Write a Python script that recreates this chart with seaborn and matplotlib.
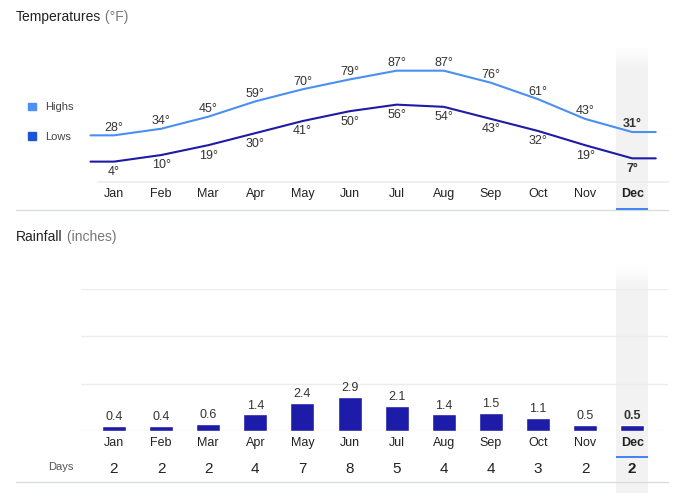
import numpy as np
import pandas as pd
import matplotlib
matplotlib.use("Agg")
import matplotlib.pyplot as plt
import seaborn as sns
from matplotlib.patches import Rectangle, Patch
from matplotlib.lines import Line2D
from matplotlib.transforms import blended_transform_factory

months = ["Jan", "Feb", "Mar", "Apr", "May", "Jun", "Jul", "Aug", "Sep", "Oct", "Nov", "Dec"]
highs = [28, 34, 45, 59, 70, 79, 87, 87, 76, 61, 43, 31]
lows = [4, 10, 19, 30, 41, 50, 56, 54, 43, 32, 19, 7]
rain = [0.4, 0.4, 0.6, 1.4, 2.4, 2.9, 2.1, 1.4, 1.5, 1.1, 0.5, 0.5]
rain_days = [2, 2, 2, 4, 7, 8, 5, 4, 4, 3, 2, 2]

HI_COL = "#4a8ff2"
LO_COL = "#1d1ba6"
BAR_COL = "#1c1ca8"
W, H = 682, 493

sns.set_theme(style="white")
plt.rcParams["font.family"] = ["Liberation Sans", "DejaVu Sans"]

fig = plt.figure(figsize=(W / 100, H / 100), dpi=100)

def box(l, t, r, b):
    # pixel box -> figure fractions
    return [l / W, 1 - b / H, (r - l) / W, (b - t) / H]

# ---- temperatures ----
ax = fig.add_axes(box(98, 48, 668, 182))
ax.set_facecolor("none")
n = len(months)
xs = np.r_[-0.5, np.arange(n), n - 0.5]
temp = pd.DataFrame({
    "x": np.r_[xs, xs],
    "t": np.r_[highs[0], highs, highs[-1], lows[0], lows, lows[-1]],
    "kind": ["Highs"] * len(xs) + ["Lows"] * len(xs),
})
sns.lineplot(data=temp, x="x", y="t", hue="kind", palette={"Highs": HI_COL, "Lows": LO_COL},
             ax=ax, legend=False, lw=1.5, clip_on=False, solid_joinstyle="round")
ax.set_xlim(-0.34, 11.76)
ax.set_ylim(-14.6, 107.7)
for i in range(n):
    wt = "bold" if i == n - 1 else "normal"
    ax.annotate(f"{highs[i]}°", (i, highs[i]), xytext=(0, 5.5), textcoords="offset points",
                ha="center", va="center", fontsize=9, color="#333", fontweight=wt)
    ax.annotate(f"{lows[i]}°", (i, lows[i]), xytext=(0, -7.5), textcoords="offset points",
                ha="center", va="center", fontsize=9, color="#333", fontweight=wt)
ax.set_xticks(range(n), months)
ax.set_yticks([])
ax.set_xlabel("")
ax.set_ylabel("")
ax.tick_params(axis="x", length=0, pad=4, labelsize=9, labelcolor="#222")
ax.get_xticklabels()[-1].set_fontweight("bold")
for s in ["top", "left", "right"]:
    ax.spines[s].set_visible(False)
ax.spines["bottom"].set_color("#ececec")
ax.spines["bottom"].set_linewidth(1.2)

fig.legend(handles=[Patch(color="#4d8ef7", label="Highs"), Patch(color="#1a56d6", label="Lows")],
           loc="center left", bbox_to_anchor=(28 / W, 1 - 122 / H), frameon=False,
           fontsize=8, labelcolor="#444", handlelength=0.7, handleheight=0.7,
           handletextpad=0.8, labelspacing=1.75, borderpad=0, borderaxespad=0)

# ---- rainfall ----
ax2 = fig.add_axes(box(81, 289, 668, 431))
ax2.set_facecolor("none")
rdf = pd.DataFrame({"month": months, "rain": rain})
sns.barplot(data=rdf, x="month", y="rain", color=BAR_COL, saturation=1, width=0.51, ax=ax2)
ax2.set_xlim(-0.70, 11.76)
ax2.set_ylim(0, 12)
ax2.set_yticks([0, 4, 8, 12])
ax2.set_yticklabels([])
ax2.grid(axis="y", color="#ececec", lw=1)
ax2.set_axisbelow(True)
ax2.set_xlabel("")
ax2.set_ylabel("")
for s in ax2.spines.values():
    s.set_visible(False)
ax2.tick_params(axis="both", length=0)
ax2.tick_params(axis="x", pad=4, labelsize=9, labelcolor="#222")
ax2.get_xticklabels()[-1].set_fontweight("bold")
lbls = ax2.bar_label(ax2.containers[0], labels=[f"{v:.1f}" for v in rain], padding=2,
                     fontsize=9, color="#333")
lbls[-1].set_fontweight("bold")

# ---- titles ----
for y, a, b in [(17, "Temperatures", " (°F)"), (237, "Rainfall", " (inches)")]:
    t = fig.text(16 / W, 1 - y / H, a, va="center", ha="left", fontsize=10, color="#222")
    ax.annotate(b, xy=(1, 0), xycoords=t, va="bottom", ha="left", fontsize=10,
                color="#777", annotation_clip=False)

# ---- days row ----
fig.text(48 / W, 1 - 467 / H, "Days", va="center", ha="left", fontsize=8, color="#555")
tr2 = blended_transform_factory(ax2.transData, fig.transFigure)
for i, d in enumerate(rain_days):
    ax2.text(i, 1 - 469 / H, str(d), transform=tr2, ha="center", va="center",
             fontsize=11, color="#222", fontweight="bold" if i == n - 1 else "normal")

# ---- separators ----
for y in [210, 482]:
    fig.add_artist(Line2D([16 / W, 668 / W], [1 - y / H, 1 - y / H], color="#dadce0", lw=1))

# ---- December highlight ----
def highlight(a, top, bottom, under):
    tr = blended_transform_factory(a.transData, fig.transFigure)
    x0, wd = n - 1 - 0.34, 0.68
    fade = 22
    fig.add_artist(Rectangle((x0, 1 - bottom / H), wd, (bottom - top - fade) / H,
                             transform=tr, color="#f2f2f2", lw=0, zorder=-2))
    steps = 11
    for k in range(steps):
        y0 = top + fade * k / steps
        fig.add_artist(Rectangle((x0, 1 - (y0 + fade / steps) / H), wd, fade / steps / H,
                                 transform=tr, color="#f2f2f2", lw=0, zorder=-2,
                                 alpha=(k + 1) / steps))
    fig.add_artist(Rectangle((x0, 1 - (under + 1) / H), wd, 2 / H, transform=tr,
                             color="#4285f4", lw=0, zorder=3))

highlight(ax, 48, 209, 208.5)
highlight(ax2, 268, 493, 456.5)

fig.savefig("out.png", dpi=100)
